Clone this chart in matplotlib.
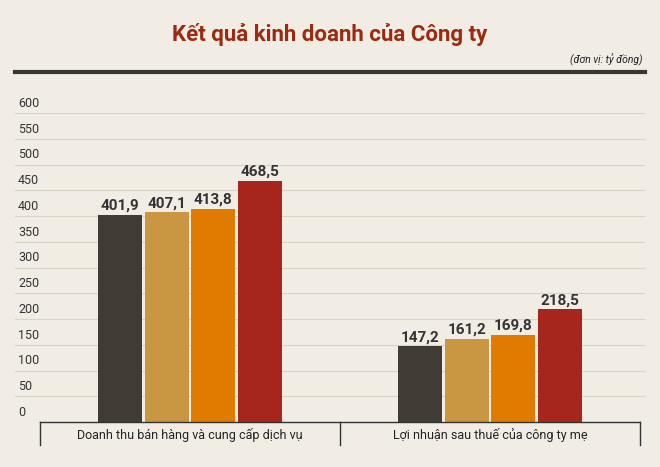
import matplotlib.pyplot as plt

categories = ["Doanh thu bán hàng và cung cấp dịch vụ", "Lợi nhuận sau thuế của công ty mẹ"]
series = [
    [401.9, 147.2],
    [407.1, 161.2],
    [413.8, 169.8],
    [468.5, 218.5],
]
colors = ["#403c35", "#c99642", "#e07b00", "#a6251d"]
yticks = [0, 50, 100, 150, 200, 250, 300, 350, 400, 450, 500, 550, 600]

bg = "#f1ede4"
plt.rcParams['font.family'] = ['Roboto', 'DejaVu Sans']
fig = plt.figure(figsize=(6.6, 4.67), dpi=100, facecolor=bg)
ax = fig.add_axes([15 / 660, 1 - 422 / 467, 630 / 660, 309 / 467])
ax.set_facecolor(bg)
ax.set_xlim(15, 645)
ax.set_ylim(0, 600)

for v in yticks[1:]:
    ax.axhline(v, color="#d8d3c8", lw=0.8, zorder=0)
for v in yticks:
    ax.text(18, v + 6, str(v), fontsize=9, color="#333333", va="bottom", ha="left")

step = 46.7
for gi, cat in enumerate(categories):
    center = 190 + 300 * gi
    for si, vals in enumerate(series):
        x = center + (si - 1.5) * step
        ax.bar(x, vals[gi], width=44, color=colors[si], zorder=2)
        ax.text(x, vals[gi] + 4, f"{vals[gi]:.1f}".replace(".", ","), ha="center", va="bottom",
                fontsize=11, fontweight="bold", color="#333333")
    ax.text(center, -26, cat, ha="center", va="center", fontsize=9, color="#222222", clip_on=False)

ax.plot([40, 640], [0, 0], color="#333333", lw=1, clip_on=False)
for x in [40, 340, 640]:
    ax.plot([x, x], [0, -45], color="#333333", lw=1, clip_on=False)

for s in ax.spines.values():
    s.set_visible(False)
ax.set_xticks([])
ax.set_yticks([])

fig.text(0.5, 1 - 35 / 467, "Kết quả kinh doanh của Công ty", ha="center", va="center",
         fontsize=16, fontweight="bold", color="#9b2a10")
fig.text(643 / 660, 1 - 60 / 467, "(đơn vị: tỷ đồng)", ha="right", va="center",
         fontsize=7.5, style="italic", color="#222222")
fig.add_artist(plt.Line2D([15 / 660, 645 / 660], [1 - 72 / 467] * 2, color="#3a3630", lw=3))

fig.savefig("out.png", dpi=100, facecolor=bg)
